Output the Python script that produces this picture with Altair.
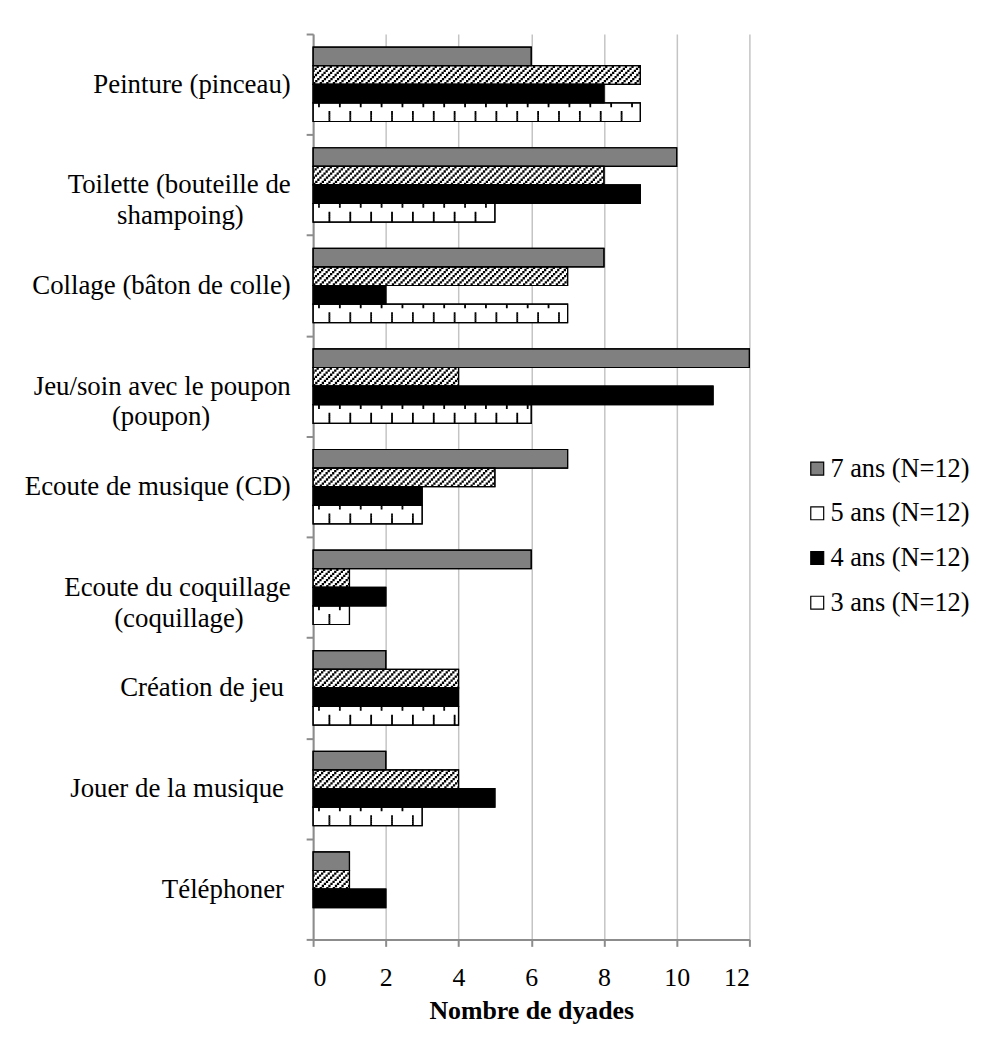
import altair as alt
import pandas as pd

NB = "\u00a0"
END = "\u200b"   # keeps the trailing non-breaking spaces from being trimmed
categories = [
    "Peinture (pinceau)",
    "Toilette (bouteille de\nshampoing)" + NB * 7 + END,
    "Collage (bâton de colle)",
    "Jeu/soin avec le poupon\n(poupon)" + NB * 12 + END,
    "Ecoute de musique (CD)",
    "Ecoute du coquillage\n(coquillage)" + NB * 7 + END,
    "Création de jeu" + NB + END,
    "Jouer de la musique" + NB + END,
    "Téléphoner" + NB + END,
]
series = ["7 ans (N=12)", "5 ans (N=12)", "4 ans (N=12)", "3 ans (N=12)"]
v7 = [6, 10, 8, 12, 7, 6, 2, 2, 1]
v5 = [9, 8, 7, 4, 5, 1, 4, 4, 1]
v4 = [8, 9, 2, 11, 3, 2, 4, 5, 2]
v3 = [9, 5, 7, 6, 3, 1, 4, 3, 0]
x_ticks = [0, 2, 4, 6, 8, 10, 12]

records = []
for ci, c in enumerate(categories):
    for s, vals in zip(series, [v7, v5, v4, v3]):
        records.append({"cat": c, "series": s, "value": vals[ci], "zero": 0})
df = pd.DataFrame(records)

# ---- style helpers (patterns) ----
FONT = "Liberation Serif"
K = 9                      # sub rows per bar, used to draw fill patterns
PO = 0.705                 # outer padding of the bar group (in bar steps)
BAR_H = 18.7
ROW_H = BAR_H / K
n_pad = int(PO * K)
sub_po = PO * K - n_pad


def shifted(s, a, P):
    b = P - a
    s = s % P
    if s <= b:
        return [0, s, a, b - s]
    return [s - b, b, a - (s - b), 0]


sub_keys = [f"{s}|{i}" for s in series for i in range(K)]
sub_domain = [f"padA{i}" for i in range(n_pad)] + sub_keys + [f"padB{i}" for i in range(n_pad)]
dash_range = []
for s in series:
    for i in range(K):
        if s == series[1]:
            dash_range.append(shifted((K - 1 - i) * ROW_H, 2.3, 6.6))
        elif s == series[3]:
            if i <= 1:
                dash_range.append(shifted(5.0, 1.8, 21.0))
            elif i >= 4:
                dash_range.append(shifted(15.5, 1.8, 21.0))
            else:
                dash_range.append([0, 40])
        else:
            dash_range.append([0, 40])

x_axis = alt.Axis(
    values=x_ticks, title="Nombre de dyades", grid=True, gridColor="#c4c4c4",
    gridWidth=1.5, domainColor="#8c8c8c", domainWidth=2, tickColor="#8c8c8c",
    tickWidth=2, tickSize=7, labelFont=FONT, labelFontSize=26, labelColor="black",
    labelPadding=18, titleFont=FONT, titleFontSize=26, titleFontWeight="bold",
    titleColor="black", titlePadding=8,
)
x_scale = alt.Scale(domain=[0, 12], nice=False)

y_enc = alt.Y(
    "cat:N", sort=categories,
    scale=alt.Scale(domain=categories, paddingInner=0, paddingOuter=0),
    axis=alt.Axis(
        title=None, labelExpr="split(datum.label, '\\n')", labelFont=FONT,
        labelFontSize=27, labelColor="black", labelLineHeight=31, labelLimit=320,
        labelPadding=16, tickBand="extent", tickSize=7, tickColor="#8c8c8c",
        tickWidth=2, domainColor="#8c8c8c", domainWidth=2, grid=False,
        minExtent=305, maxExtent=305,
    ),
)
yoff_main = alt.YOffset(
    "series:N", sort=series,
    scale=alt.Scale(domain=series, paddingInner=0, paddingOuter=PO),
)

base = alt.Chart(df)

bars = base.transform_filter("datum.value > 0").mark_bar(
    stroke="black", strokeWidth=1.2
).encode(
    x=alt.X("value:Q", scale=x_scale, axis=x_axis),
    y=y_enc,
    yOffset=yoff_main,
    fill=alt.Fill(
        "series:N", sort=series,
        scale=alt.Scale(domain=series, range=["#808080", "#ffffff", "#000000", "#ffffff"]),
        legend=alt.Legend(
            title=None, orient="none", legendX=494, legendY=424, symbolType="square",
            symbolSize=169, symbolStrokeColor="black", symbolStrokeWidth=1.2,
            labelFont=FONT, labelFontSize=26.5, labelColor="black", labelOffset=0,
            rowPadding=18, padding=0,
        ),
    ),
)

pattern = base.transform_filter(
    f"(datum.series == '{series[1]}' || datum.series == '{series[3]}') && datum.value > 0"
).transform_calculate(
    r=f"sequence(0, {K})"
).transform_flatten(["r"]).transform_calculate(
    key="datum.series + '|' + datum.r"
).mark_rule(color="black", strokeWidth=ROW_H + 0.25, strokeCap="butt").encode(
    x=alt.X("zero:Q", scale=x_scale, axis=x_axis),
    x2="value:Q",
    y=y_enc,
    yOffset=alt.YOffset(
        "key:N", sort=sub_domain,
        scale=alt.Scale(domain=sub_domain, paddingInner=0, paddingOuter=sub_po),
    ),
    strokeDash=alt.StrokeDash("key:N", scale=alt.Scale(domain=sub_keys, range=dash_range), legend=None),
)

outline = base.transform_filter("datum.value > 0").mark_bar(
    fillOpacity=0, stroke="black", strokeWidth=1.2
).encode(
    x=alt.X("value:Q", scale=x_scale, axis=x_axis),
    y=y_enc,
    yOffset=yoff_main,
)

chart = alt.layer(bars, pattern, outline).resolve_scale(
    yOffset="independent"
).properties(
    width=439, height=911,
    padding={"left": 2, "top": 9, "right": 5, "bottom": 5},
).configure_view(strokeWidth=0)

chart.save("out.html", embed_options={"renderer": "svg", "actions": False})
